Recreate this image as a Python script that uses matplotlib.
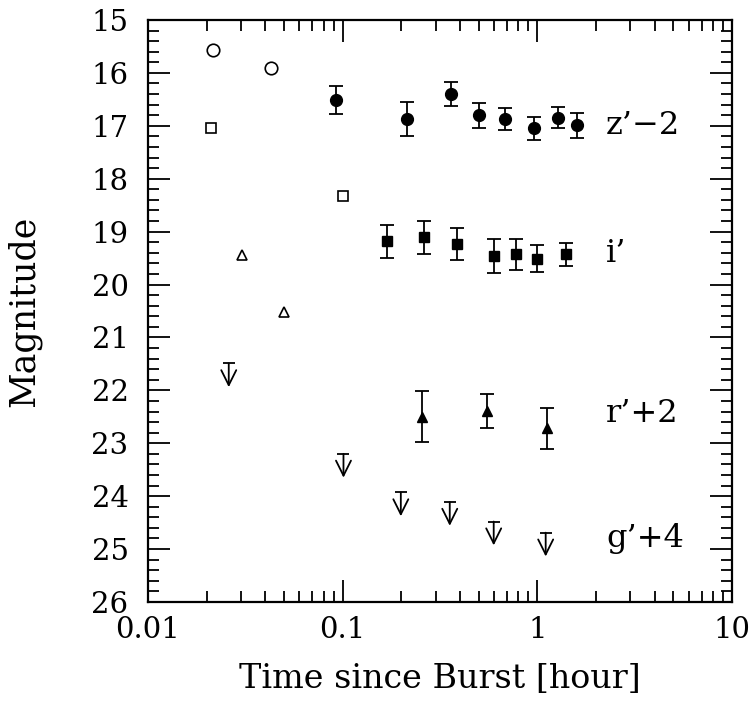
import matplotlib
matplotlib.use('Agg')
import matplotlib.pyplot as plt
from matplotlib.ticker import MultipleLocator, LogLocator, FixedFormatter, FixedLocator

plt.rcParams['font.family'] = ['DejaVu Serif']

# z' band (shifted by -2)
z_t = [0.092, 0.213, 0.359, 0.500, 0.679, 0.957, 1.271, 1.592]
z_mag = [16.51, 16.87, 16.40, 16.80, 16.87, 17.05, 16.85, 16.99]
z_err = [0.27, 0.32, 0.22, 0.24, 0.21, 0.22, 0.20, 0.24]
z_open_t = [0.0215, 0.0427]
z_open_mag = [15.57, 15.90]

# i' band
i_t = [0.168, 0.261, 0.385, 0.597, 0.774, 0.991, 1.397]
i_mag = [19.18, 19.11, 19.24, 19.46, 19.43, 19.51, 19.43]
i_err = [0.31, 0.32, 0.30, 0.32, 0.30, 0.25, 0.22]
i_open_t = [0.0212, 0.101]
i_open_mag = [17.04, 18.32]

# r' band (shifted by +2)
r_t = [0.255, 0.549, 1.116]
r_mag = [22.50, 22.39, 22.72]
r_err = [0.48, 0.32, 0.38]
r_open_t = [0.0303, 0.0498]
r_open_mag = [19.44, 20.52]

# g' band upper limits (shifted by +4)
g_t = [0.0260, 0.101, 0.199, 0.355, 0.597, 1.104]
g_lim = [21.49, 23.20, 23.93, 24.11, 24.48, 24.69]

labels = ["z’−2", "i’", "r’+2", "g’+4"]
label_mag = [16.99, 19.42, 22.43, 24.80]

fig = plt.figure(figsize=(7.53, 7.02), dpi=100)
ax = fig.add_axes([0.1965, 0.1425, 0.7756, 0.829])

eb = dict(fmt='none', ecolor='black', elinewidth=1.3, capsize=5, capthick=1.3)
ax.errorbar(z_t, z_mag, yerr=z_err, **eb)
ax.errorbar(i_t, i_mag, yerr=i_err, **eb)
ax.errorbar(r_t, r_mag, yerr=r_err, **eb)

ax.plot(z_t, z_mag, 'o', color='black', ms=8.5)
ax.plot(i_t, i_mag, 's', color='black', ms=6.5)
ax.plot(r_t, r_mag, '^', color='black', ms=7)

ax.plot(z_open_t, z_open_mag, 'o', mfc='white', mec='black', ms=9, mew=1.2)
ax.plot(i_open_t, i_open_mag, 's', mfc='white', mec='black', ms=6.5, mew=1.2)
ax.plot(r_open_t, r_open_mag, '^', mfc='white', mec='black', ms=6.5, mew=1.2)

# upper limits: cap + downward arrow
ax.plot(g_t, g_lim, '_', color='black', ms=9, mew=1.3)
for t, m in zip(g_t, g_lim):
    ax.annotate('', xy=(t, m + 0.45), xytext=(t, m),
                arrowprops=dict(arrowstyle='->,head_length=0.6,head_width=0.3',
                                lw=1.3, color='black', shrinkA=0, shrinkB=0,
                                mutation_scale=18))

for lab, m in zip(labels, label_mag):
    ax.text(2.25, m, lab, fontsize=23, va='center', ha='left')

ax.set_xscale('log')
ax.set_xlim(0.01, 10)
ax.set_ylim(26, 15)
ax.yaxis.set_major_locator(MultipleLocator(1))
ax.yaxis.set_minor_locator(MultipleLocator(0.2))
ax.xaxis.set_major_locator(FixedLocator([0.01, 0.1, 1, 10]))
ax.xaxis.set_major_formatter(FixedFormatter(['0.01', '0.1', '1', '10']))
ax.xaxis.set_minor_locator(LogLocator(base=10, subs=range(2, 10)))

ax.tick_params(which='both', direction='in', top=True, right=True,
               labelsize=21, width=1.3)
ax.tick_params(which='major', length=16, pad=10)
ax.tick_params(which='minor', length=8, labelbottom=False)
ax.tick_params(axis='y', which='major', pad=14)
for s in ax.spines.values():
    s.set_linewidth(1.6)

ax.set_xlabel('Time since Burst [hour]', fontsize=24, labelpad=14)
ax.set_ylabel('Magnitude', fontsize=25, labelpad=36)

fig.savefig('out.png', dpi=100)
